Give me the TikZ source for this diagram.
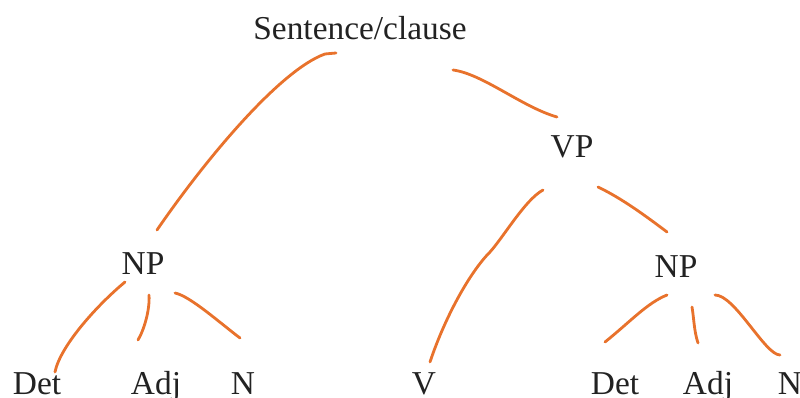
\documentclass[tikz,border=0pt]{standalone}
\usepackage{fontspec}
\setmainfont{Liberation Serif}
\usepackage{tikz}
\usetikzlibrary{calc}
\definecolor{myorange}{RGB}{232,114,44}
\definecolor{mytext}{RGB}{34,34,34}
\tikzset{
  word/.style={anchor=base, inner sep=0pt, text=mytext,
    font=\fontsize{19}{22}\selectfont},
  branch/.style={draw=myorange, line width=1.6pt, line cap=round, line join=round}
}

\begin{document}
\begin{tikzpicture}[x=0.02cm, y=-0.02cm]
  \useasboundingbox (0,0) rectangle (800,398);
  % phrase labels
  \node[word] (s) at (360,40) {Sentence/clause};
  \node[word] (vp) at (572,158) {VP};
  \node[word] (npl) at (143,275) {NP};
  \node[word] (npr) at (676,277) {NP};
  % words
  \node[word] (detl) at (37,394) {Det};
  \node[word] (adjl) at (156,394) {Adj};
  \node[word] (nl) at (243,394) {N};
  \node[word] (v) at (424,394) {V};
  \node[word] (detr) at (615,394) {Det};
  \node[word] (adjr) at (708,394) {Adj};
  \node[word] (nr) at (790,394) {N};

  % hand drawn branches
  \draw[branch] ([shift={(-24,13)}]s.base) -- ([shift={(-35,14)}]s.base)
    .. controls +(-45,16) and +(48,-70) .. ([shift={(14,-45)}]npl.base);
  \draw[branch] ([shift={(93,30)}]s.base)
    .. controls +(30,4) and +(-35,-10) .. ([shift={(-15,-41)}]vp.base);
  \draw[branch] ([shift={(-29,32)}]vp.base)
    .. controls +(-18,10) and +(15,-17) .. ([shift={(-82,94)}]vp.base)
    .. controls +(-20,20) and +(15,-45) .. ([shift={(6,-32)}]v.base);
  \draw[branch] ([shift={(26,29)}]vp.base)
    .. controls +(25,12) and +(-20,-15) .. ([shift={(-9,-45)}]npr.base);
  \draw[branch] ([shift={(-9,18)}]npr.base)
    .. controls +(-20,8) and +(25,-20) .. ([shift={(-10,-52)}]detr.base);
  \draw[branch] ([shift={(16,30)}]npr.base)
    .. controls +(2,12) and +(-4,-12) .. ([shift={(-10,-51)}]adjr.base);
  \draw[branch] ([shift={(39,18)}]npr.base)
    .. controls +(20,0) and +(-15,0) .. ([shift={(-10,-39)}]nr.base);
  \draw[branch] ([shift={(-18,7)}]npl.base)
    .. controls +(-30,25) and +(5,-25) .. ([shift={(18,-22)}]detl.base);
  \draw[branch] ([shift={(6,20)}]npl.base)
    .. controls +(1,15) and +(6,-10) .. ([shift={(-18,-54)}]adjl.base);
  \draw[branch] ([shift={(32,18)}]npl.base)
    .. controls +(15,3) and +(-20,-15) .. ([shift={(-3,-56)}]nl.base);
\end{tikzpicture}
\end{document}
